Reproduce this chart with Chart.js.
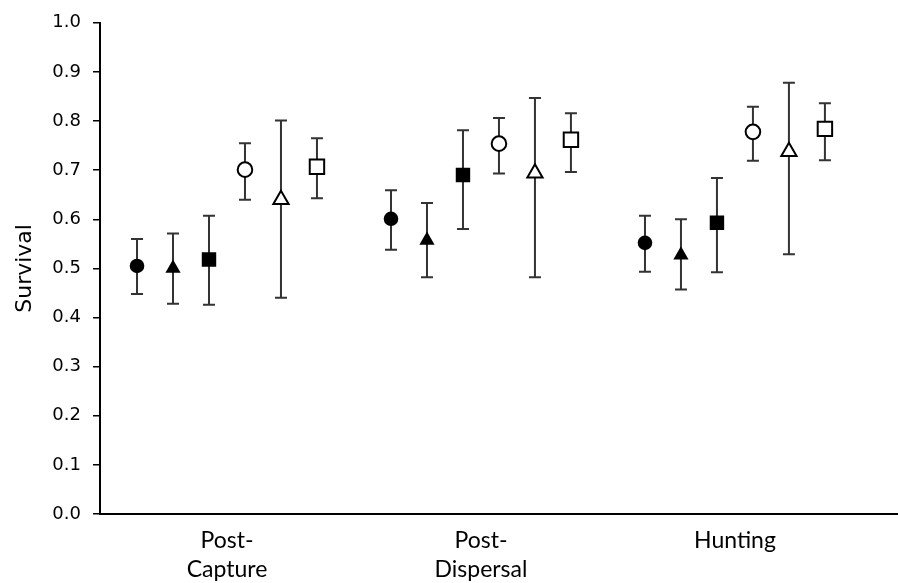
<!DOCTYPE html>
<html>
<head>
<meta charset="utf-8">
<script src="https://cdn.jsdelivr.net/npm/chart.js@4/dist/chart.umd.min.js"></script>
<style>
  html, body { margin: 0; background: #fff; }
  #wrap { width: 898px; height: 583px; }
</style>
</head>
<body>
<div id="wrap"><canvas id="myChart"></canvas></div>
<script>
// categories along the x axis
const categories = [["Post-", "Capture"], ["Post-", "Dispersal"], "Hunting"];
const yTicks = [0, 0.1, 0.2, 0.3, 0.4, 0.5, 0.6, 0.7, 0.8, 0.9, 1.0];

// six groups, order as drawn left to right in each category
const markers = ["circle", "triangle", "rect", "circle", "triangle", "rect"];
const filled = [true, true, true, false, false, false];

// survival estimate per group, per category
const survival = [
  [0.505, 0.601, 0.552],
  [0.500, 0.557, 0.527],
  [0.518, 0.690, 0.593],
  [0.701, 0.754, 0.778],
  [0.640, 0.694, 0.738],
  [0.707, 0.762, 0.784]
];
const lower = [
  [0.448, 0.538, 0.493],
  [0.428, 0.482, 0.457],
  [0.426, 0.580, 0.492],
  [0.640, 0.693, 0.719],
  [0.440, 0.482, 0.529],
  [0.643, 0.696, 0.720]
];
const upper = [
  [0.560, 0.659, 0.607],
  [0.571, 0.633, 0.600],
  [0.607, 0.781, 0.684],
  [0.755, 0.806, 0.829],
  [0.801, 0.847, 0.878],
  [0.765, 0.816, 0.836]
];

const step = 0.1417; // spacing of groups inside one category
const radii = { circle: 7.3, triangle: 8.8, rect: 10.2 };

const datasets = survival.map((vals, s) => ({
  label: "group " + (s + 1),
  data: vals.map((v, c) => ({ x: c + 1 + (s - 2.5) * step, y: v, lo: lower[s][c], hi: upper[s][c] })),
  pointStyle: markers[s],
  pointRadius: radii[markers[s]],
  pointHoverRadius: radii[markers[s]],
  backgroundColor: filled[s] ? "#000" : "#fff",
  borderColor: "#000",
  pointBorderWidth: filled[s] ? 0 : 2,
  showLine: false
}));

// whiskers drawn behind the markers
const errorBars = {
  id: "errorBars",
  beforeDatasetsDraw(chart) {
    const ctx = chart.ctx;
    const xs = chart.scales.x, ys = chart.scales.y;
    ctx.save();
    ctx.strokeStyle = "#333";
    ctx.lineWidth = 2;
    chart.data.datasets.forEach(ds => {
      ds.data.forEach(p => {
        const px = xs.getPixelForValue(p.x);
        const top = ys.getPixelForValue(p.hi);
        const bot = ys.getPixelForValue(p.lo);
        ctx.beginPath();
        ctx.moveTo(px, top); ctx.lineTo(px, bot);
        ctx.moveTo(px - 6, top); ctx.lineTo(px + 6, top);
        ctx.moveTo(px - 6, bot); ctx.lineTo(px + 6, bot);
        ctx.stroke();
      });
    });
    ctx.restore();
  }
};

new Chart(document.getElementById("myChart"), {
  type: "scatter",
  data: { datasets: datasets },
  plugins: [errorBars],
  options: {
    responsive: true,
    maintainAspectRatio: false,
    animation: false,
    layout: { autoPadding: false, padding: { top: 18, right: 0, left: 0, bottom: 0 } },
    plugins: { legend: { display: false }, tooltip: { enabled: false } },
    scales: {
      x: {
        type: "linear",
        min: 0.5,
        max: 3.642,
        afterBuildTicks: axis => { axis.ticks = categories.map((c, i) => ({ value: i + 1 })); },
        afterFit: axis => { axis.height = 69; },
        grid: { display: false, drawTicks: false },
        border: { display: true, color: "#000", width: 2 },
        ticks: {
          padding: 12,
          color: "#000",
          font: { family: "Lato", size: 23, lineHeight: 1.25 },
          maxRotation: 0,
          autoSkip: false,
          callback: (v) => categories[Math.round(v) - 1]
        }
      },
      y: {
        min: 0,
        max: 1,
        afterBuildTicks: axis => { axis.ticks = yTicks.map(v => ({ value: v })); },
        afterFit: axis => { axis.width = 100; },
        grid: { drawOnChartArea: false, drawTicks: true, tickLength: 7, color: "#000", lineWidth: 1.5 },
        border: { display: true, color: "#000", width: 2 },
        title: {
          display: true,
          text: "Survival",
          color: "#000",
          font: { family: "DejaVu Sans", size: 22 },
          padding: { top: 12, bottom: 0 }
        },
        ticks: {
          padding: 12,
          color: "#000",
          font: { family: "DejaVu Sans", size: 18 },
          callback: v => v.toFixed(1)
        }
      }
    }
  }
});
</script>
</body>
</html>
